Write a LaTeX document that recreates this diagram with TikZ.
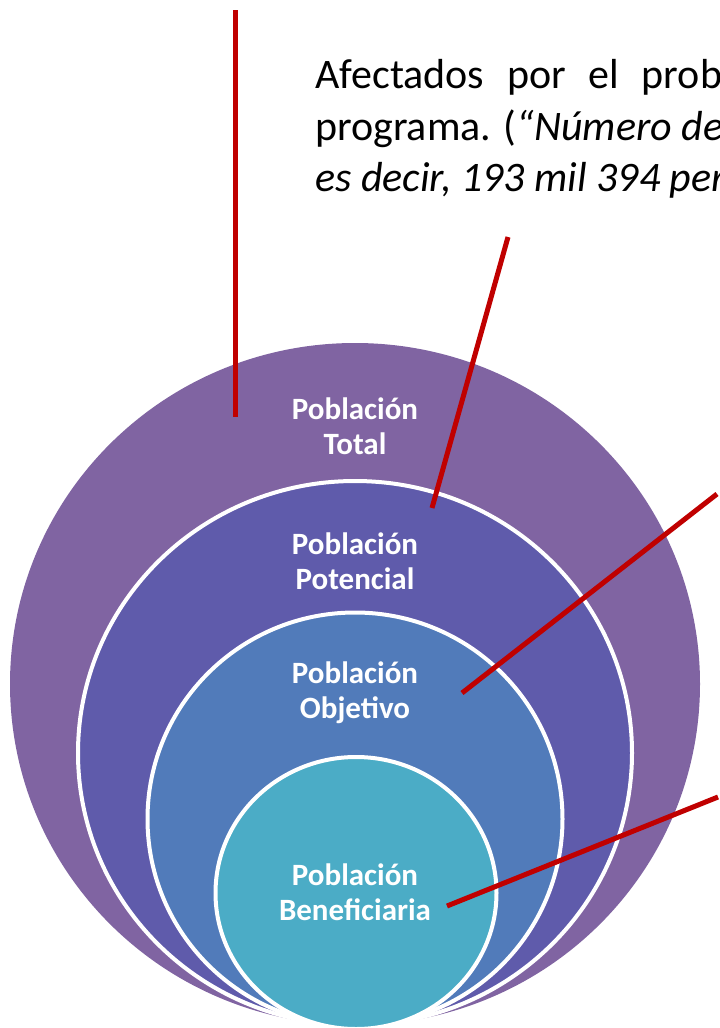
\documentclass[tikz,border=0pt]{standalone}
\usepackage{fontspec}
\setmainfont{Carlito}
\usetikzlibrary{shapes.geometric}
\definecolor{cTotal}{HTML}{8064A2}
\definecolor{cPot}{HTML}{5F5BAB}
\definecolor{cObj}{HTML}{517BBA}
\definecolor{cBen}{HTML}{4BACC6}
\definecolor{cRed}{HTML}{C00000}
\begin{document}
\begin{tikzpicture}[x=1pt,y=-1pt,
  ring/.style={ellipse, inner sep=0pt, outer sep=0pt},
  inring/.style={ring, draw=white, line width=4pt},
  lbl/.style={text=white, font=\fontsize{31}{35}\selectfont\bfseries, align=center, inner sep=0pt},
  leader/.style={draw=cRed, line width=5pt},
  body/.style={anchor=base west, inner sep=0pt, font=\fontsize{42}{51}\selectfont}]
\useasboundingbox (0,0) rectangle (720,1028);
\fill[white] (0,0) rectangle (720,1028);
\begin{scope}
\clip (0,0) rectangle (720,1028);
\node[ring, fill=cTotal, minimum width=690, minimum height=682] (total) at (355,684) {};
\node[inring, fill=cPot, minimum width=554, minimum height=544] (pot) at (355,753) {};
\node[inring, fill=cObj, minimum width=415, minimum height=413] (obj) at (355,819) {};
\node[inring, fill=cBen, minimum width=281, minimum height=272] (ben) at (356,893) {};

\node[lbl] (ltotal) at (355,426) {Población\\Total};
\node[lbl] (lpot) at (355,561) {Población\\Potencial};
\node[lbl] (lobj) at (355,693) {Población\\Objetivo};
\node[lbl] (lben) at (355,892) {Población\\Beneficiaria};

\coordinate (a1) at (235,10);
\coordinate (a2) at (235,417);
\coordinate (b1) at (508,237);
\coordinate (b2) at (432,508);
\coordinate (c1) at (717,494);
\coordinate (c2) at (462,693);
\coordinate (d1) at (718,797);
\coordinate (d2) at (447,906);
\draw[leader] (a1) -- (a2);
\draw[leader] (b1) -- (b2);
\draw[leader] (c1) -- (c2);
\draw[leader] (d1) -- (d2);

\node[body] (t1) at (315,88) {\makebox[407pt][s]{Afectados por el prob}};
\node[body] (t2) at (315,140) {programa. (\textit{“Número de}};
\node[body] (t3) at (315,191) {\textit{es decir, 193 mil 394 per}};
\end{scope}
\end{tikzpicture}
\end{document}
